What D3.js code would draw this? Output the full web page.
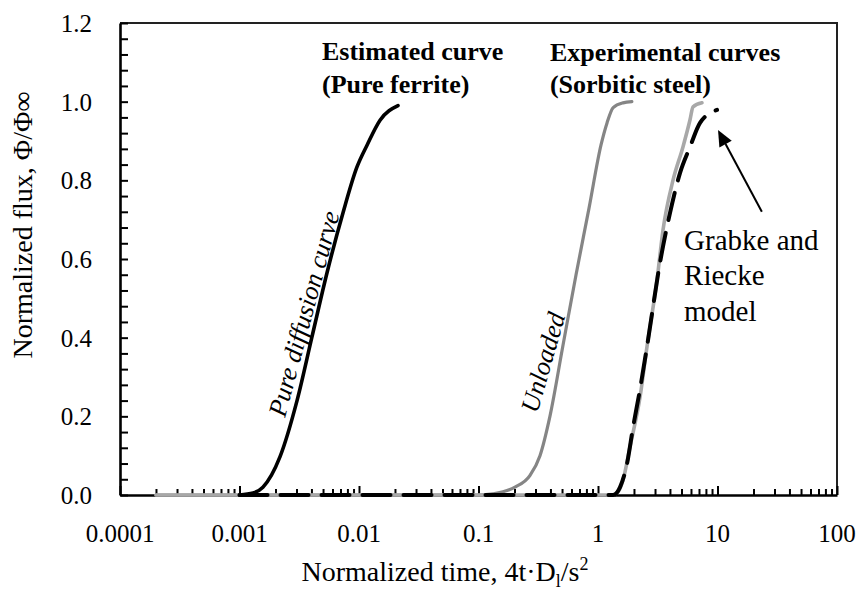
<!DOCTYPE html>
<html lang="en">
<head>
    <meta charset="UTF-8" />
    <title>Permeation curves</title>
    <style>
        body { margin: 0; background: #fff; }
        svg text { font-family: "Liberation Serif", "Times New Roman", serif; fill: #000; }
        .tick-label { font-size: 25px; }
        .axis-title { font-size: 28px; }
        .note-bold { font-size: 26px; font-weight: bold; }
        .note { font-size: 29px; }
        .note-italic { font-size: 26px; font-style: italic; }
    </style>
</head>
<body>
    <div id="chart"></div>

    <script src="https://cdn.jsdelivr.net/npm/d3@7/dist/d3.min.js"></script>
    <script>
        // values (x: normalized time, y: normalized flux)
        const pureX = [0.001, 0.0013, 0.00157, 0.00218, 0.00303, 0.00404, 0.0054, 0.00734, 0.00962, 0.0117, 0.015, 0.0212];
        const pureY = [0, 0.005, 0.02, 0.097, 0.24, 0.402, 0.565, 0.717, 0.834, 0.89, 0.953, 0.99];

        const unloadedX = [0.0002, 0.1, 0.132, 0.202, 0.27, 0.327, 0.396, 0.509, 0.655, 0.842, 1.06, 1.19, 1.34, 1.62, 1.92];
        const unloadedY = [0, 0, 0.003, 0.02, 0.05, 0.1, 0.2, 0.38, 0.56, 0.73, 0.89, 0.946, 0.985, 0.997, 1.0];

        const sorbiticX = [0.0002, 1.3, 1.44, 1.62, 1.85, 2.25, 2.57, 3.12, 3.5, 4.25, 5.14, 5.89, 6.24, 7.41];
        const sorbiticY = [0, 0, 0.005, 0.038, 0.122, 0.25, 0.377, 0.547, 0.674, 0.801, 0.885, 0.954, 0.987, 0.997];

        const grabkeX = [0.001, 1.34, 1.53, 1.75, 1.96, 2.25, 2.57, 3.3, 4.01, 4.86, 5.89, 7.14, 9.91];
        const grabkeY = [0, 0, 0.02, 0.08, 0.17, 0.27, 0.377, 0.59, 0.718, 0.819, 0.885, 0.946, 0.979];

        const xTicks = [0.0001, 0.001, 0.01, 0.1, 1, 10, 100];
        const xTickLabels = ['0.0001', '0.001', '0.01', '0.1', '1', '10', '100'];
        const yTicks = [0, 0.2, 0.4, 0.6, 0.8, 1.0, 1.2];

        const width = 859, height = 590;
        const margin = { top: 23, right: 22, bottom: 95, left: 120 };

        const svg = d3.select('#chart').append('svg')
            .attr('width', width)
            .attr('height', height);

        const x = d3.scaleLog().domain([0.0001, 100]).range([margin.left, width - margin.right]);
        const y = d3.scaleLinear().domain([0, 1.2]).range([height - margin.bottom, margin.top]);

        // frame (top and right)
        svg.append('path')
            .attr('d', `M${x(0.0001)},${y(1.2)}H${x(100)}V${y(0)}`)
            .attr('fill', 'none')
            .attr('stroke', '#222')
            .attr('stroke-width', 2);

        // minor x ticks
        const xMinor = [];
        xTicks.slice(0, -1).forEach(d => {
            for (let k = 2; k <= 9; k++) xMinor.push(d * k);
        });

        const yMinor = d3.range(0, 1.2001, 0.04);

        // data series
        const line = d3.line()
            .x(d => x(d[0]))
            .y(d => y(d[1]))
            .curve(d3.curveMonotoneX);

        const series = [
            { xs: unloadedX, ys: unloadedY, color: '#858585', w: 3.2, dash: null },
            { xs: sorbiticX, ys: sorbiticY, color: '#a8a8a8', w: 3.6, dash: null },
            { xs: grabkeX, ys: grabkeY, color: '#000', w: 4, dash: '28,13' },
            { xs: pureX, ys: pureY, color: '#000', w: 3.6, dash: null }
        ];

        // axes below the curves
        svg.append('g')
            .attr('transform', `translate(0,${y(0)})`)
            .call(d3.axisBottom(x).tickValues(xMinor).tickSize(-6).tickFormat(''))
            .call(g => g.select('.domain').remove())
            .call(g => g.selectAll('line').attr('stroke-width', 2));

        svg.append('g')
            .attr('transform', `translate(0,${y(0)})`)
            .call(d3.axisBottom(x).tickValues(xTicks).tickSize(-9).tickSizeOuter(0).tickFormat(''))
            .call(g => g.select('.domain').attr('stroke-width', 2.6))
            .call(g => g.selectAll('line').attr('stroke-width', 2));

        svg.append('g')
            .attr('transform', `translate(${x(0.0001)},0)`)
            .call(d3.axisLeft(y).tickValues(yMinor).tickSize(-8).tickSizeOuter(0).tickFormat(''))
            .call(g => g.select('.domain').attr('stroke-width', 2.6))
            .call(g => g.selectAll('line').attr('stroke-width', 2));

        svg.append('g')
            .selectAll('path')
            .data(series)
            .enter().append('path')
            .attr('d', s => line(s.xs.map((v, i) => [v, s.ys[i]])))
            .attr('fill', 'none')
            .attr('stroke', s => s.color)
            .attr('stroke-width', s => s.w)
            .attr('stroke-dasharray', s => s.dash)
            .attr('stroke-linejoin', 'round')
            .attr('stroke-linecap', 'round');

        // tick labels
        svg.append('g')
            .selectAll('text')
            .data(xTicks)
            .enter().append('text')
            .attr('class', 'tick-label')
            .attr('x', d => x(d))
            .attr('y', y(0) + 47)
            .attr('text-anchor', 'middle')
            .text((d, i) => xTickLabels[i]);

        svg.append('g')
            .selectAll('text')
            .data(yTicks)
            .enter().append('text')
            .attr('class', 'tick-label')
            .attr('x', x(0.0001) - 28)
            .attr('y', d => y(d) + 9)
            .attr('text-anchor', 'end')
            .text(d => d.toFixed(1));

        // axis titles
        const xt = svg.append('text')
            .attr('class', 'axis-title')
            .attr('x', 445)
            .attr('y', 581)
            .attr('text-anchor', 'middle');
        xt.append('tspan').text('Normalized time, 4t·D');
        xt.append('tspan').attr('font-size', '18px').attr('dy', 6).text('l');
        xt.append('tspan').attr('dy', -6).text('/s');
        xt.append('tspan').attr('font-size', '18px').attr('dy', -11).text('2');

        svg.append('text')
            .attr('class', 'axis-title')
            .attr('transform', `translate(32,${225}) rotate(-90)`)
            .attr('text-anchor', 'middle')
            .text('Normalized flux, Φ/Φ∞');

        // annotations
        const notes = [
            { t: 'Estimated curve', cls: 'note-bold', x: 0.0049, y: 1.106 },
            { t: '(Pure ferrite)', cls: 'note-bold', x: 0.0049, y: 1.022 },
            { t: 'Experimental curves', cls: 'note-bold', x: 0.396, y: 1.103 },
            { t: '(Sorbitic steel)', cls: 'note-bold', x: 0.396, y: 1.022 },
            { t: 'Grabke and', cls: 'note', x: 5.25, y: 0.623 },
            { t: 'Riecke', cls: 'note', x: 5.25, y: 0.534 },
            { t: 'model', cls: 'note', x: 5.25, y: 0.442 }
        ];

        svg.append('g')
            .selectAll('text')
            .data(notes)
            .enter().append('text')
            .attr('class', d => d.cls)
            .attr('x', d => x(d.x))
            .attr('y', d => y(d.y))
            .text(d => d.t);

        const curveNotes = [
            { t: 'Pure diffusion curve', x: 0.0024, y: 0.196, a: -75 },
            { t: 'Unloaded', x: 0.31, y: 0.206, a: -74 }
        ];

        svg.append('g')
            .selectAll('text')
            .data(curveNotes)
            .enter().append('text')
            .attr('class', 'note-italic')
            .attr('transform', d => `translate(${x(d.x)},${y(d.y)}) rotate(${d.a})`)
            .text(d => d.t);

        // arrow to the model curve
        const a0 = [23.5, 0.72], a1 = [10.1, 0.928];
        const ax0 = x(a0[0]), ay0 = y(a0[1]), ax1 = x(a1[0]), ay1 = y(a1[1]);
        const ang = Math.atan2(ay1 - ay0, ax1 - ax0);
        const headL = 16, headW = 7;
        const bx = ax1 - headL * Math.cos(ang), by = ay1 - headL * Math.sin(ang);

        svg.append('line')
            .attr('x1', ax0).attr('y1', ay0)
            .attr('x2', bx).attr('y2', by)
            .attr('stroke', '#000')
            .attr('stroke-width', 2);

        svg.append('path')
            .attr('d', `M${ax1},${ay1}` +
                `L${bx + headW * Math.sin(ang)},${by - headW * Math.cos(ang)}` +
                `L${bx - headW * Math.sin(ang)},${by + headW * Math.cos(ang)}Z`)
            .attr('fill', '#000');
    </script>
</body>
</html>
